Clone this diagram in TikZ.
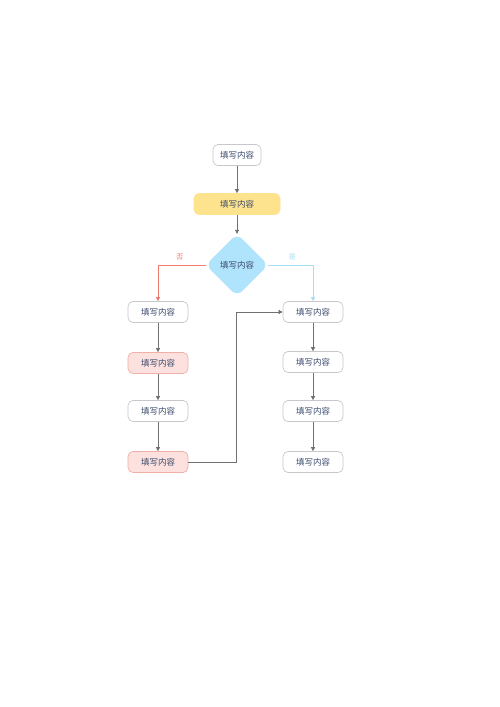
\documentclass[tikz,border=0pt]{standalone}
\usepackage{fontspec}
\newfontfamily\cjk{Noto Sans CJK SC}
\usetikzlibrary{arrows.meta,shapes.geometric}
\definecolor{txt}{HTML}{3A4A6B}
\definecolor{bord}{HTML}{C8C8CC}
\definecolor{yfill}{HTML}{FDE38E}
\definecolor{pfill}{HTML}{FDE1DE}
\definecolor{pbord}{HTML}{F2AFA8}
\definecolor{dfill}{HTML}{B0E4FC}
\definecolor{lred}{HTML}{F07A6E}
\definecolor{lblue}{HTML}{A9DDF3}
\definecolor{lgray}{HTML}{707070}
\tikzset{
  box/.style={draw=bord, line width=0.7pt, rounded corners=5pt, fill=white, minimum width=60pt, minimum height=21pt, inner sep=0pt, text=txt, font=\cjk\fontsize{8.5}{9}\selectfont},
  ybox/.style={box, draw=yfill, fill=yfill, minimum width=86pt},
  pbox/.style={box, draw=pbord, fill=pfill},
  dia/.style={diamond, draw=dfill, fill=dfill, rounded corners=7pt, minimum width=62pt, minimum height=62pt, inner sep=0pt, text=txt, font=\cjk\fontsize{8.5}{9}\selectfont},
  conn/.style={draw=lgray, line width=0.6pt, -{Triangle[length=4pt,width=4pt]}},
  lab/.style={font=\cjk\fontsize{7}{8}\selectfont}
}
\begin{document}
\begin{tikzpicture}[x=1pt,y=-1pt]
\useasboundingbox[fill=white] (0,0) rectangle (500,707);
\node[box, minimum width=48pt] (n1) at (237,155) {填写内容};
\node[ybox] (n2) at (237,204) {填写内容};
\node[dia] (d) at (237,265) {填写内容};
\node[box] (l1) at (158,312) {填写内容};
\node[pbox] (l2) at (158,363) {填写内容};
\node[box] (l3) at (158,411) {填写内容};
\node[pbox] (l4) at (158,462) {填写内容};
\node[box] (r1) at (313,312) {填写内容};
\node[box] (r2) at (313,362) {填写内容};
\node[box] (r3) at (313,411) {填写内容};
\node[box] (r4) at (313,462) {填写内容};
\draw[conn] (n1) -- (n2);
\draw[conn] (n2) -- (d);
\draw[conn, draw=lred, -{Triangle[length=4pt,width=4pt,fill=lred]}] (d.west) -| node[lab, text=lred, pos=0.27, above=1pt] {否} (l1.north);
\draw[conn, draw=lblue, -{Triangle[length=4pt,width=4pt,fill=lblue]}] (d.east) -| node[lab, text=lblue, pos=0.27, above=1pt] {是} (r1.north);
\draw[conn] (l1) -- (l2);
\draw[conn] (l2) -- (l3);
\draw[conn] (l3) -- (l4);
\draw[conn] (r1) -- (r2);
\draw[conn] (r2) -- (r3);
\draw[conn] (r3) -- (r4);
\coordinate (k) at (236,462);
\draw[conn] (l4.east) -- (k) |- (r1.west);
\end{tikzpicture}
\end{document}
